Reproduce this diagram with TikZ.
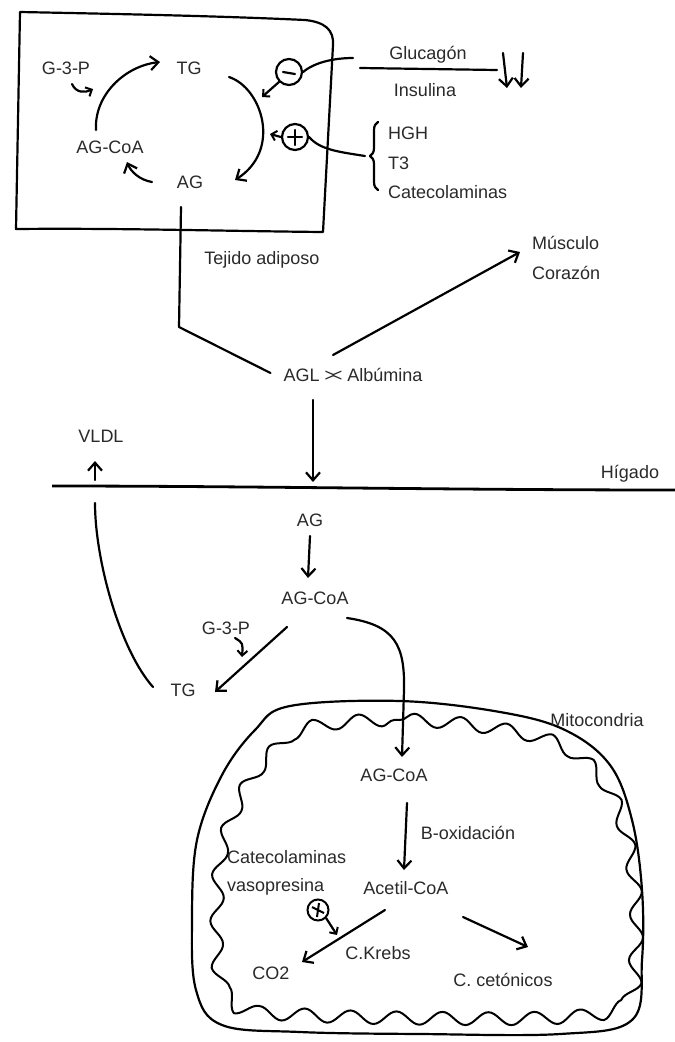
\documentclass[tikz,border=0pt]{standalone}
\usepackage{fontspec}
\setmainfont{Liberation Sans}
\usetikzlibrary{arrows.meta,calc,decorations.pathreplacing,decorations.pathmorphing}
\definecolor{txt}{HTML}{2A2A2A}
\begin{document}
\begin{tikzpicture}[x=1pt,y=-1pt,
  lbl/.style={inner sep=0pt,text=txt,font=\fontsize{18}{20}\selectfont},
  ln/.style={line width=2.2pt,line cap=round,line join=round},
  arr/.style={ln,-{Straight Barb[length=8pt,width=14pt,line width=2.2pt]}},
  sarr/.style={ln,-{Straight Barb[length=5pt,width=10pt,line width=2pt]}},
  sign/.style={circle,draw,line width=2.2pt,minimum size=26pt,inner sep=0pt}]
\useasboundingbox[fill=white] (0,0) rectangle (675,1042);

% ---------- adipose tissue box ----------
\draw[ln] (20,12) .. controls (120,14) and (220,16) .. (305,20)
  .. controls (325,22) and (334,30) .. (333,45) -- (323,232)
  .. controls (220,231) and (120,228) .. (16,229) -- cycle;

\node[lbl] (g3p) at (66,68) {G-3-P};
\node[lbl] (tg) at (189,68) {TG};
\node[lbl] (agcoa) at (110,147) {AG-CoA};
\node[lbl] (ag) at (190,182) {AG};

\draw[arr] ($(agcoa)+(-14,-17)$) .. controls (94,95) and (125,66) .. ($(tg)+(-29,-6)$);
\draw[sarr] ($(g3p)+(6,16)$) .. controls (76,93) and (85,93) .. ($(g3p)+(27,21)$);
\draw[arr] ($(ag)+(-38,0)$) .. controls (140,180) and (131,172) .. ($(agcoa)+(17,15)$);
\draw[arr] ($(tg)+(40,9)$) .. controls (262,88) and (282,150) .. ($(ag)+(45,-2)$);

\node[sign] (minus) at (289,72) {};
\draw[ln] ($(minus)+(-6,0)$) -- ($(minus)+(6,2)$);
\node[sign] (plus) at (295,137) {};
\draw[ln] ($(plus)+(-7,0)$) -- ($(plus)+(7,0)$);
\draw[ln] ($(plus)+(0,-7)$) -- ($(plus)+(0,8)$);

\draw[sarr] (minus.south west) -- ($(tg)+(73,29)$);
\draw[sarr] (plus.west) -- ($(ag)+(80,-48)$);

\node[lbl] (glucagon) at (428,55) {Glucagón};
\node[lbl] (insulina) at (425,90) {Insulina};
\coordinate (mend) at (353,58);
\draw[ln] (minus.east) .. controls (315,62) and (335,58) .. (mend);
\coordinate (fbL) at (360,68);
\coordinate (fbR) at (497,70);
\draw[ln] (fbL) -- (fbR);
\coordinate (d1a) at (503,53); \coordinate (d1b) at (507,88);
\coordinate (d2a) at (523,53); \coordinate (d2b) at (521,88);
\draw[arr] (d1a) -- (d1b);
\draw[arr] (d2a) -- (d2b);

\node[lbl,anchor=west] (hgh) at (388,133) {HGH};
\node[lbl,anchor=west] (t3) at (388,163) {T3};
\node[lbl,anchor=west] (cat1) at (388,192) {Catecolaminas};
\coordinate (brA) at (378,190);
\coordinate (brB) at (378,122);
\draw[ln,decorate,decoration={brace,amplitude=8pt}] (brA) -- (brB);
\coordinate (brT) at (365,156);
\draw[ln] (plus.east) .. controls (320,150) and (340,152) .. (brT);

\node[lbl] (tejido) at (262,260) {Tejido adiposo};

% ---------- blood ----------
\node[lbl] (agl) at (353,375) {AGL >\kern-3.5pt< Albúmina};
\node[lbl,anchor=west] (musculo) at (532,243) {Músculo};
\node[lbl,anchor=west] (corazon) at (532,273) {Corazón};
\coordinate (bend) at (179,327);
\draw[ln] ($(ag)+(-9,25)$) -- (bend) -- ($(agl.west)+(-13,-2)$);
\draw[arr] ($(agl)+(-20,-20)$) -- ($(musculo.west)+(-12,9)$);

% ---------- liver ----------
\coordinate (hl1) at (52,486);
\coordinate (hl2) at (675,490);
\draw[line width=2.8pt] (hl1) .. controls (250,486) and (450,490) .. (hl2);
\node[lbl] (higado) at (630,474) {Hígado};
\draw[arr] ($(agl)+(-40,25)$) -- ($(agl)+(-40,107)$);

\node[lbl] (vldl) at (101,436) {VLDL};
\draw[arr] ($(vldl)+(-6,44)$) -- ($(vldl)+(-6,25)$);

\node[lbl] (agL) at (310,520) {AG};
\node[lbl] (agcoaL) at (315,598) {AG-CoA};
\node[lbl] (g3pL) at (226,628) {G-3-P};
\node[lbl] (tgL) at (183,690) {TG};

\draw[arr] ($(agL)+(0,16)$) -- ($(agcoaL)+(-7,-20)$);
\draw[ln] ($(tgL)+(-30,-3)$) .. controls (120,650) and (95,560) .. ($(vldl)+(-6,67)$);
\draw[arr] ($(agcoaL)+(-28,29)$) -- ($(tgL)+(32,2)$);
\draw[sarr] ($(g3pL)+(9,10)$) .. controls (243,643) .. ($(g3pL)+(16,29)$);

% ---------- mitochondrion ----------
\draw[line width=2.2pt] plot[smooth cycle,tension=0.6] coordinates {
 (290,706) (400,701) (500,712) (565,730) (610,765) (632,820) (642,890)
 (642,960) (632,1020) (560,1034) (420,1034) (300,1032) (222,1025)
 (196,990) (192,920) (197,840) (222,775) (255,730)};
\draw[line width=2pt,decorate,decoration={snake,segment length=46pt,amplitude=6.5pt}]
 plot[smooth cycle,tension=0.6] coordinates {
 (300,727) (400,720) (495,730) (553,747) (593,782) (614,832) (624,892)
 (624,960) (614,1004) (550,1016) (420,1017) (300,1014) (228,1006)
 (208,972) (205,920) (210,850) (231,792) (262,750)};

\node[lbl] (mito) at (597,720) {Mitocondria};
\node[lbl] (agcoaM) at (394,775) {AG-CoA};
\draw[arr] ($(agcoaL)+(32,20)$) .. controls (395,625) and (405,645) .. (404,690) -- ($(agcoaM)+(8,-18)$);

\node[lbl] (acetil) at (406,888) {Acetil-CoA};
\node[lbl] (boxid) at (468,833) {B-oxidación};
\draw[arr] ($(agcoaM)+(13,28)$) -- ($(acetil)+(-2,-18)$);

\node[lbl,anchor=west] (cat2) at (227,857) {Catecolaminas};
\node[lbl,anchor=west] (vaso) at (227,887) {vasopresina};

\node[circle,draw,line width=2pt,minimum size=21pt,inner sep=0pt] (cx) at (318,910) {};
\draw[line width=2pt] ($(cx)+(-6,-3)$) -- ($(cx)+(6,3)$);
\draw[line width=2pt] ($(cx)+(1,-7)$) -- ($(cx)+(-1,7)$);
\draw[sarr] (cx.south east) -- ($(cx)+(19,25)$);

\node[lbl] (co2) at (271,973) {CO2};
\node[lbl] (krebs) at (378,953) {C.Krebs};
\node[lbl] (ceto) at (503,980) {C. cetónicos};
\draw[arr] ($(acetil)+(-21,22)$) -- ($(co2)+(31,-11)$);
\draw[arr] ($(acetil)+(57,29)$) -- ($(ceto)+(25,-33)$);
\end{tikzpicture}
\end{document}
